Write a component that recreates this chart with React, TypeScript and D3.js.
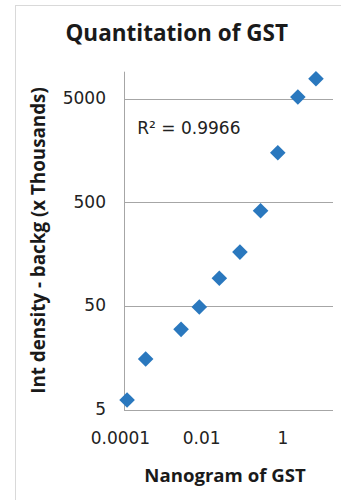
import React, { useEffect, useRef } from 'react';
import * as d3 from 'd3';

// nanogram of GST (x) vs int density - background, thousands (y)
const nanograms = [0.00015, 0.00043, 0.0032, 0.009, 0.028, 0.09, 0.29, 0.77, 2.4, 6.7];
const densities = [6.1, 15.2, 29.4, 48.4, 91.6, 164, 412, 1497, 5170, 7770];
const xTicks = [0.0001, 0.01, 1];
const yTicks = [5, 50, 500, 5000];
const rSquared = '0.9966';

const W = 341, H = 500;
const plot = { left: 124, right: 333, top: 71.7, bottom: 410 };

export default function App() {
  const xAxisRef = useRef<SVGGElement>(null);
  const yAxisRef = useRef<SVGGElement>(null);

  const x = d3.scaleLog().domain([0.000126, 17.6]).range([plot.left, plot.right]);
  const y = d3.scaleLog().domain([4.89, 9080]).range([plot.bottom, plot.top]);

  const diamond = d3.symbol().type(d3.symbolDiamond2).size(155)();

  useEffect(() => {
    const xAxis = d3.axisBottom(x)
      .tickValues(xTicks)
      .tickFormat(d => String(d))
      .tickSize(0)
      .tickPadding(22);
    const yAxis = d3.axisLeft(y)
      .tickValues(yTicks)
      .tickFormat(d3.format('d'))
      .tickSize(0)
      .tickPadding(18);

    const gx = d3.select(xAxisRef.current).call(xAxis);
    const gy = d3.select(yAxisRef.current).call(yAxis);
    [gx, gy].forEach(g => {
      g.select('.domain').remove();
      g.selectAll('text')
        .attr('font-family', 'DejaVu Sans')
        .attr('font-size', 17)
        .attr('fill', '#222');
    });
  }, []);

  return (
    <svg width={W} height={H} style={{ position: 'absolute', left: 0, top: 0, display: 'block', background: '#fff' }}>
      <rect x={15.5} y={5.5} width={400} height={600} fill="#fff" stroke="#d9d9d9" />

      <text x={176.7} y={40.5} textAnchor="middle" fontFamily="Open Sans" fontWeight="bold" fontSize={22.5} fill="#1a1a1a">
        Quantitation of GST
      </text>

      {/* gridlines */}
      {yTicks.slice(1).map(t => (
        <line key={t} x1={plot.left} x2={plot.right} y1={Math.round(y(t)) + 0.5} y2={Math.round(y(t)) + 0.5} stroke="#a6a6a6" />
      ))}
      {/* axis lines */}
      <line x1={plot.left + 0.5} x2={plot.left + 0.5} y1={plot.top} y2={plot.bottom} stroke="#a6a6a6" />
      <line x1={plot.left} x2={plot.right} y1={plot.bottom + 0.5} y2={plot.bottom + 0.5} stroke="#a6a6a6" />

      <g ref={xAxisRef} transform={`translate(0,${plot.bottom})`} />
      <g ref={yAxisRef} transform={`translate(${plot.left},0)`} />

      {nanograms.map((n, i) => (
        <path key={i} d={diamond || ''} transform={`translate(${x(n)},${y(densities[i])})`} fill="#2a78be" />
      ))}

      <text x={137.3} y={134} fontFamily="DejaVu Sans" fontSize={17} fill="#222">
        R² = {rSquared}
      </text>

      <text transform="translate(45,240.5) rotate(-90)" textAnchor="middle" fontFamily="Open Sans" fontWeight="bold" fontSize={18.8} fill="#1a1a1a">
        Int density - backg (x Thousands)
      </text>
      <text x={225} y={482} textAnchor="middle" fontFamily="Open Sans" fontWeight="bold" fontSize={18.6} fill="#1a1a1a">
        Nanogram of GST
      </text>
    </svg>
  );
}
